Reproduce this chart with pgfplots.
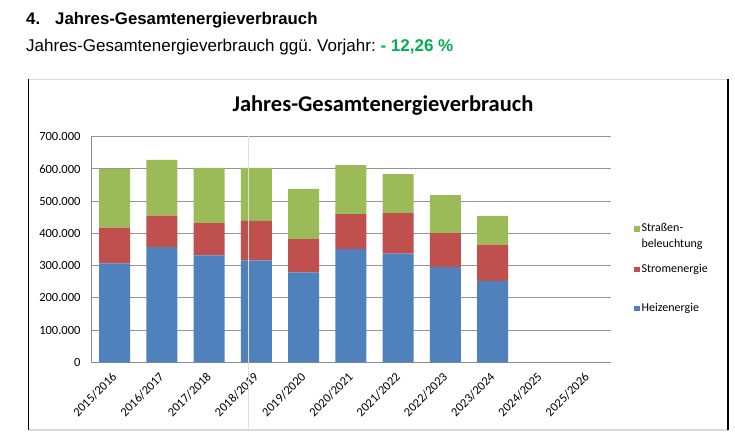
\documentclass[border=0pt]{standalone}
\usepackage{pgfplots}
\pgfplotsset{compat=1.18}
\usepackage{pgfplotstable}
\usepackage{fontspec}
\setmainfont{Carlito}
\newfontfamily\arial{Liberation Sans}
\frenchspacing

\definecolor{heiz}{RGB}{79,129,189}
\definecolor{strom}{RGB}{192,80,77}
\definecolor{strasse}{RGB}{155,187,89}
\definecolor{pct}{RGB}{0,176,80}

% Werte in kWh, abgelesen
\pgfplotstableread{
x heiz strom strasse
0 307000 111000 181000
1 357000 98000 173000
2 332000 100000 171000
3 316000 123000 164000
4 279000 103000 156000
5 351000 109000 152000
6 337000 126000 121000
7 295000 106000 118000
8 253000 112000 89000
}\verbrauch

\begin{document}
\begin{tikzpicture}[x=1pt,y=1pt]
\useasboundingbox (0,0) rectangle (735,446);

% Ueberschriften
\node[anchor=base west,inner sep=0] at (26,421) {\arial\fontsize{16.8}{19}\selectfont\bfseries 4.};
\node[anchor=base west,inner sep=0] at (55,421) {\arial\fontsize{16.8}{19}\selectfont\bfseries Jahres-Gesamtenergieverbrauch};
\node[anchor=base west,inner sep=0] at (26,394) {\arial\fontsize{17}{19}\selectfont Jahres-Gesamtenergieverbrauch ggü. Vorjahr: \textcolor{pct}{\bfseries - 12,26 \%}};

% Rahmen
\draw[black!15,line width=1.5pt] (28.5,366.5) -- (728,366.5);
\draw[black!15,line width=1.5pt] (28.5,16) -- (728,16);
\draw[black,line width=1.4pt] (28.5,366.5) -- (28.5,16);
\draw[black,line width=1.4pt] (728,366.5) -- (728,16);

\node[anchor=base,inner sep=0] at (383,334.5) {\fontsize{22.5}{25}\selectfont\bfseries Jahres-Gesamtenergieverbrauch};

\begin{axis}[
    at={(91pt,83.7pt)}, anchor=south west,
    scale only axis,
    width=519.7pt, height=225.6pt,
    ybar stacked,
    bar width=31pt,
    xmin=-0.5, xmax=10.5,
    ymin=0, ymax=700000,
    xtick={0,...,10},
    xticklabels={2015/2016,2016/2017,2017/2018,2018/2019,2019/2020,2020/2021,2021/2022,2022/2023,2023/2024,2024/2025,2025/2026},
    ytick={0,100000,...,700000},
    scaled y ticks=false,
    /pgf/number format/.cd, fixed, 1000 sep={.}, assume math mode=true,
    /pgfplots/.cd,
    major tick length=0pt,
    axis lines*=left,
    axis line style={black!45,line width=1pt},
    ymajorgrids=true,
    grid style={black!42,line width=1.1pt},
    tick label style={font=\fontsize{12.5}{14}\selectfont},
    yticklabel style={xshift=-7pt},
    xticklabel style={xshift=-3.5pt,yshift=-4.5pt,rotate=45,anchor=north east},
    legend style={at={(1.039,0.636)},anchor=north west,draw=none,fill=none,
        font=\fontsize{12}{16}\selectfont,row sep=11pt,
        cells={anchor=north west,align=left}},
    legend image code/.code={\fill[#1,draw=none] (0pt,-10.5pt) rectangle (5.5pt,-5pt);},
    reverse legend,
]
\addplot[fill=heiz,draw=none] table[x=x,y=heiz] {\verbrauch};
\addlegendentry{Heizenergie}
\addplot[fill=strom,draw=none] table[x=x,y=strom] {\verbrauch};
\addlegendentry{Stromenergie\\[-2pt]\mbox{}}
\addplot[fill=strasse,draw=none] table[x=x,y=strasse] {\verbrauch};
\addlegendentry{Straßen-\\beleuchtung}
\end{axis}

\draw[black!12,line width=0.8pt] (248.3,310) -- (248.3,16.5);
\end{tikzpicture}
\end{document}
